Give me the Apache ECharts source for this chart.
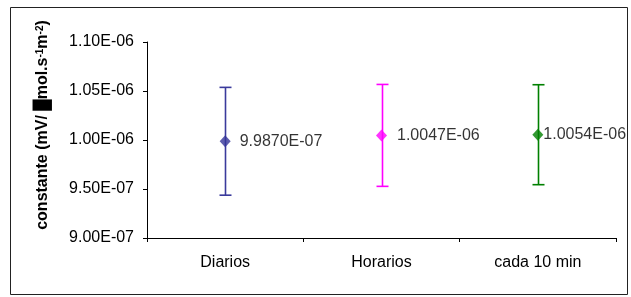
<!DOCTYPE html>
<html>
<head>
<meta charset="utf-8">
<script src="https://cdn.jsdelivr.net/npm/echarts@6/dist/echarts.min.js"></script>
<style>
  html, body { margin: 0; padding: 0; background: #fff; }
  #main { width: 631px; height: 297px; }
</style>
</head>
<body>
<div id="main"></div>
<script>
// datos
var categorias = ['Diarios', 'Horarios', 'cada 10 min']
var constantes = [9.987e-7, 1.0047e-6, 1.0054e-6]
var errSup = [1.0537e-6, 1.0567e-6, 1.0564e-6]
var errInf = [0.9437e-6, 0.9527e-6, 0.9544e-6]

var colores = ['#333399', '#ff00ff', '#008000']
var coloresBarra = ['#3a3a9c', '#ff00ff', '#008000']

// formato tipo Excel: 1.10E-06
function sci(v, dec) {
  var s = v.toExponential(dec).toUpperCase()
  var p = s.split('E')
  var e = parseInt(p[1], 10)
  var sign = e < 0 ? '-' : '+'
  e = Math.abs(e)
  return p[0] + 'E' + sign + (e < 10 ? '0' + e : '' + e)
}

var myChart = echarts.init(document.getElementById('main'), null, { renderer: 'canvas' })
var fuente = '"Liberation Sans", Arial, sans-serif'

var labelDist = [9, 10, 0]

myChart.setOption({
  animation: false,
  textStyle: { fontFamily: fuente },
  grid: { left: 147, top: 42, right: 15, bottom: 59 },
  graphic: [{
    type: 'rect',
    shape: { x: 10.5, y: 7.5, width: 617, height: 287 },
    style: { fill: 'none', stroke: '#222', lineWidth: 1 },
    z: 0
  }],
  xAxis: {
    type: 'category',
    data: categorias,
    boundaryGap: true,
    axisLine: { lineStyle: { color: '#000', width: 1 } },
    axisTick: { show: true, inside: false, length: 4, lineStyle: { color: '#000' } },
    axisLabel: { color: '#000', fontSize: 16, margin: 17, fontFamily: fuente },
    splitLine: { show: false }
  },
  yAxis: {
    type: 'value',
    min: 9.0e-7,
    max: 1.1e-6,
    interval: 5e-8,
    name: 'constante (mV/ █mol.s{sup|-1}m{sup|-2})',
    nameLocation: 'middle',
    nameRotate: 90,
    nameGap: 96,
    nameTextStyle: {
      color: '#000',
      fontSize: 16,
      fontWeight: 'bold',
      fontFamily: fuente,
      padding: [0, 0, 0, 30],
      rich: {
        sup: { fontSize: 10, fontWeight: 'bold', fontFamily: fuente, verticalAlign: 'top', color: '#000' }
      }
    },
    axisLine: { show: true, lineStyle: { color: '#000', width: 1 } },
    axisTick: { show: true, inside: false, length: 4, lineStyle: { color: '#000' } },
    axisLabel: {
      color: '#000',
      fontSize: 16,
      margin: 13,
      fontFamily: fuente,
      formatter: function (v) { return sci(v, 2) }
    },
    splitLine: { show: false }
  },
  series: [
    {
      type: 'custom',
      name: 'error',
      data: categorias.map(function (c, i) { return [i, errInf[i], errSup[i]] }),
      renderItem: function (params, api) {
        var i = api.value(0)
        var lo = api.coord([i, api.value(1)])
        var hi = api.coord([i, api.value(2)])
        var x = Math.round(lo[0]) + 0.5
        var w = 6
        var st = { stroke: coloresBarra[params.dataIndex], lineWidth: 1.6 }
        return {
          type: 'group',
          children: [
            { type: 'line', shape: { x1: x, y1: hi[1], x2: x, y2: lo[1] }, style: st },
            { type: 'line', shape: { x1: x - w, y1: hi[1], x2: x + w, y2: hi[1] }, style: st },
            { type: 'line', shape: { x1: x - w, y1: lo[1], x2: x + w, y2: lo[1] }, style: st }
          ]
        }
      },
      z: 2
    },
    {
      type: 'scatter',
      name: 'constante',
      symbol: 'diamond',
      symbolSize: [11, 12],
      data: constantes.map(function (v, i) {
        return {
          value: [i, v],
          itemStyle: { color: colores[i] },
          label: { distance: labelDist[i] }
        }
      }),
      label: {
        show: true,
        position: 'right',
        color: '#000',
        textBorderWidth: 0,
        fontSize: 16,
        fontFamily: fuente,
        formatter: function (p) { return sci(p.value[1], 4) }
      },
      z: 3
    }
  ]
})
</script>
</body>
</html>
